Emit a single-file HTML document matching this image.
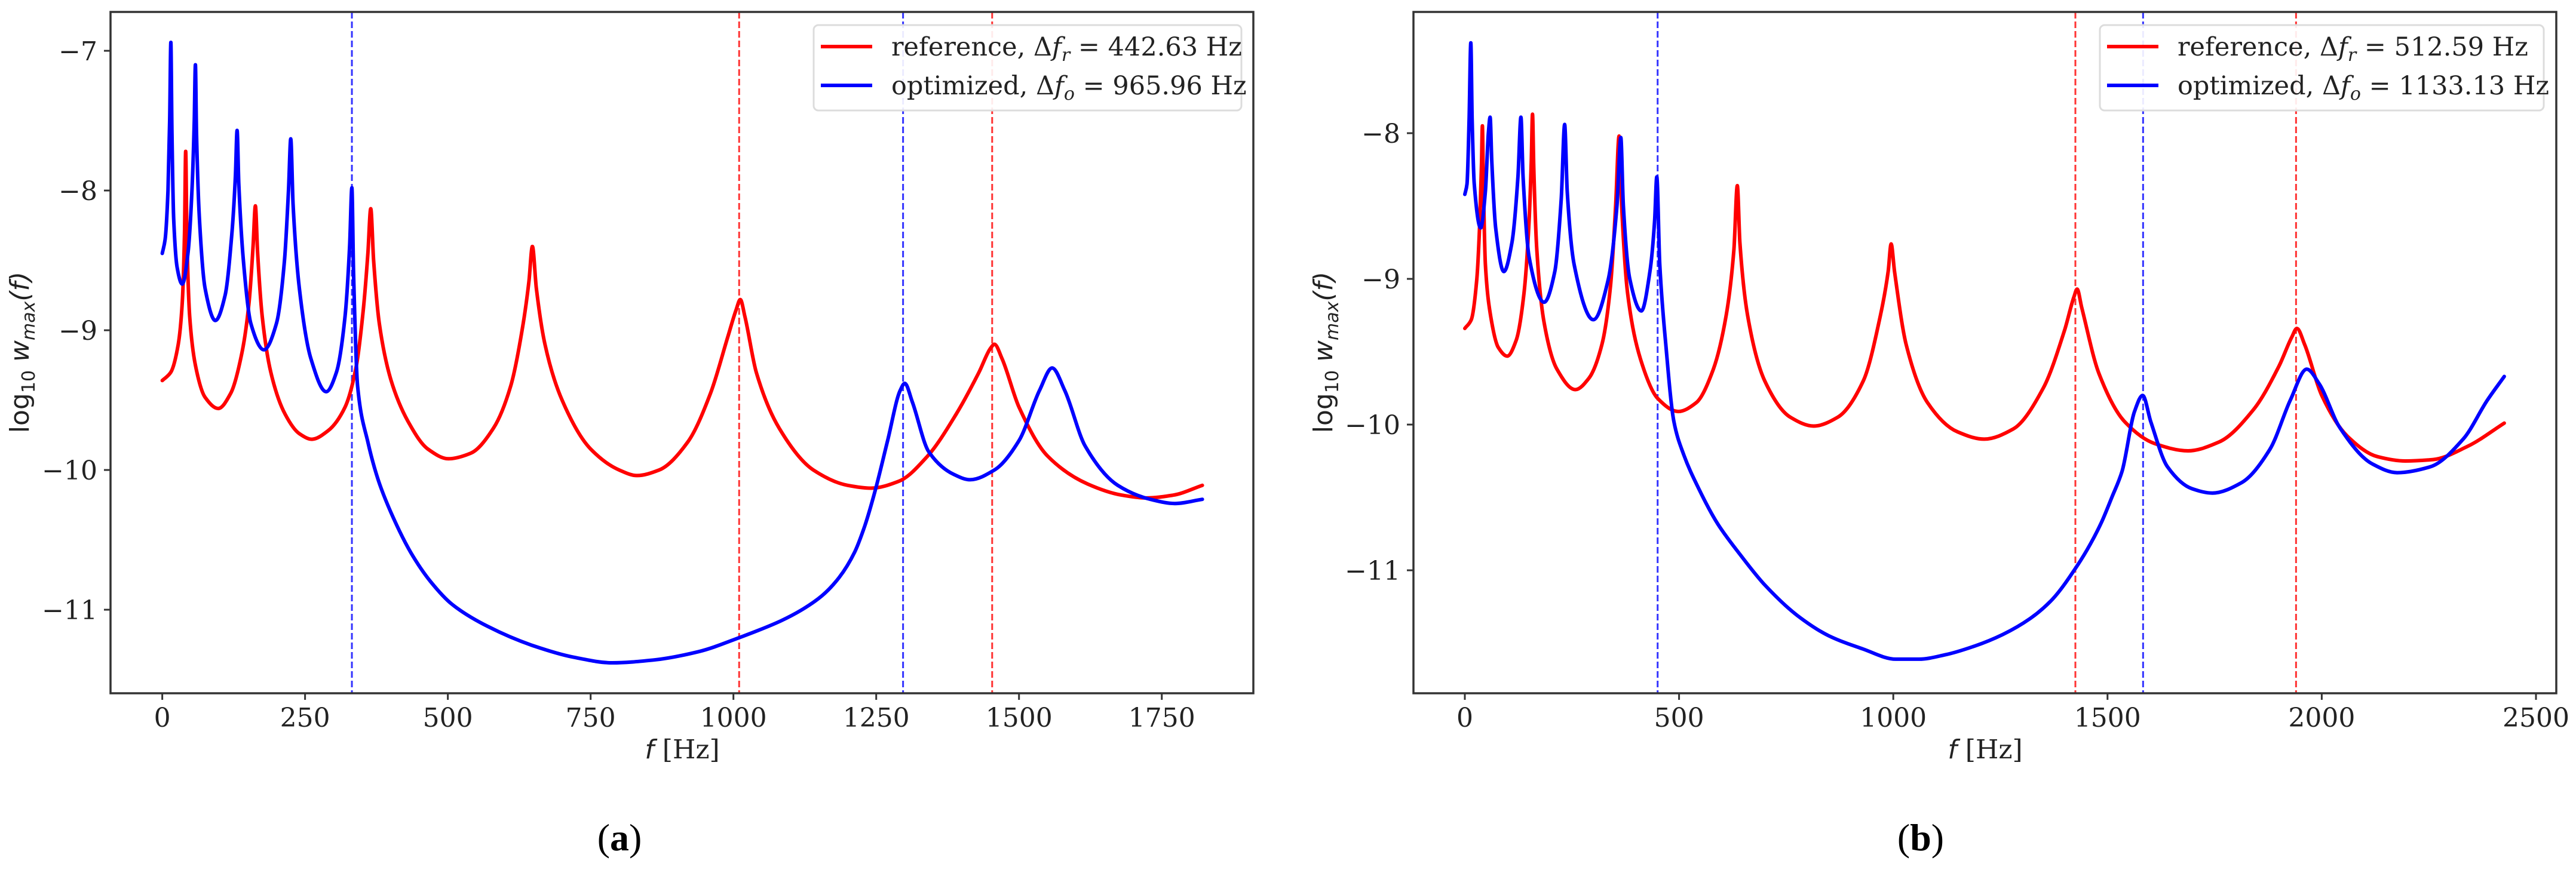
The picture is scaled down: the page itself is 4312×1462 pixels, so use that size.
<!DOCTYPE html>
<html><head><meta charset="utf-8">
<style>
html,body{margin:0;padding:0;background:#fff;}
svg{display:block;}
.tick{font-family:"DejaVu Serif","Liberation Serif",serif;font-size:44px;fill:#222;}
.leg{font-family:"DejaVu Serif","Liberation Serif",serif;font-size:43px;fill:#222;}
.ylab{font-family:"DejaVu Sans","Liberation Sans",sans-serif;font-size:44px;fill:#222;}
.cap{font-family:"Liberation Serif",serif;font-size:64px;fill:#000;}
</style></head>
<body>
<svg id="fig" width="4312" height="1462" viewBox="0 0 4312 1462" xmlns="http://www.w3.org/2000/svg"></svg>
<script>
// ---- Panel (a) data ----
const aRefF = [0,15,28,35,39,41,43,48,58,75,98,120,140,152,159,163,167,175,190,215,240,262,290,320,340,352,360,365,370,380,400,430,465,501,540,580,610,630,642,648,655,670,700,750,800,831,870,920,960,990,1005,1012,1020,1040,1080,1140,1200,1241,1290,1340,1390,1430,1450,1457,1470,1500,1550,1620,1680,1723,1770,1821];
const aRefV = [-9.36,-9.3,-9.1,-8.8,-8.3,-7.72,-8.3,-8.9,-9.25,-9.48,-9.56,-9.45,-9.15,-8.8,-8.4,-8.11,-8.45,-8.9,-9.3,-9.6,-9.74,-9.78,-9.72,-9.55,-9.25,-8.85,-8.45,-8.13,-8.5,-8.95,-9.35,-9.65,-9.85,-9.92,-9.88,-9.7,-9.4,-9.0,-8.65,-8.40,-8.7,-9.1,-9.5,-9.85,-10.0,-10.04,-10.0,-9.8,-9.45,-9.05,-8.85,-8.78,-8.9,-9.3,-9.7,-10.0,-10.11,-10.13,-10.08,-9.9,-9.6,-9.3,-9.13,-9.10,-9.2,-9.55,-9.9,-10.1,-10.18,-10.2,-10.18,-10.11];
const aOptF = [0,5,10,13,15,17,20,26,35,45,52,56,58,60,65,75,93,110,122,128,131,134,142,155,178,200,214,221,225,229,240,260,287,305,320,328,332,335,342,360,378,400,435,470,507,570,651,720,788,860,939,1010,1083,1120,1155,1185,1212,1230,1248,1270,1292,1300,1313,1342,1385,1414,1457,1500,1536,1558,1580,1616,1673,1730,1773,1821];
const aOptV = [-8.45,-8.35,-8.0,-7.5,-6.94,-7.6,-8.2,-8.55,-8.67,-8.45,-8.0,-7.5,-7.10,-7.6,-8.2,-8.7,-8.93,-8.75,-8.3,-7.9,-7.57,-7.95,-8.5,-8.95,-9.14,-8.95,-8.5,-8.0,-7.63,-8.1,-8.7,-9.2,-9.44,-9.3,-8.9,-8.4,-7.98,-8.6,-9.4,-9.8,-10.07,-10.3,-10.59,-10.8,-10.96,-11.12,-11.26,-11.34,-11.38,-11.36,-11.30,-11.2,-11.08,-11.0,-10.9,-10.77,-10.59,-10.4,-10.15,-9.79,-9.43,-9.38,-9.51,-9.87,-10.03,-10.07,-10.0,-9.79,-9.43,-9.27,-9.43,-9.83,-10.11,-10.21,-10.24,-10.21];
const aRefLines = [1010,1453];
const aOptLines = [332,1297];
const aXTicks = [0,250,500,750,1000,1250,1500,1750];
const aYTicks = [-7,-8,-9,-10,-11];
const aLegend = ["442.63","965.96"];

// ---- Panel (b) data ----
const bRefF = [0,15,28,35,39,41,43,48,60,78,99,120,138,150,155,158,161,168,185,215,258,290,320,340,352,360,366,380,410,450,498,540,580,610,628,636,642,660,700,760,814,870,930,970,988,995,1003,1030,1080,1150,1212,1280,1350,1400,1422,1429,1440,1480,1540,1610,1688,1760,1840,1900,1930,1942,1960,2000,2060,2130,2195,2260,2340,2426];
const bRefV = [-9.34,-9.28,-9.0,-8.6,-8.2,-7.95,-8.3,-8.9,-9.25,-9.47,-9.53,-9.42,-9.1,-8.6,-8.2,-7.87,-8.25,-8.8,-9.3,-9.62,-9.76,-9.68,-9.45,-9.05,-8.5,-8.02,-8.5,-9.1,-9.55,-9.82,-9.91,-9.85,-9.62,-9.25,-8.8,-8.36,-8.75,-9.25,-9.7,-9.95,-10.01,-9.95,-9.7,-9.25,-8.95,-8.76,-8.95,-9.45,-9.85,-10.05,-10.1,-10.03,-9.75,-9.35,-9.12,-9.07,-9.2,-9.65,-9.98,-10.13,-10.18,-10.12,-9.9,-9.6,-9.4,-9.34,-9.45,-9.8,-10.08,-10.22,-10.25,-10.24,-10.15,-9.99];
const bOptF = [0,5,10,14,17,22,37,48,55,59,63,72,91,110,124,131,136,150,185,210,225,233,239,255,300,335,355,364,370,385,412,432,443,448,455,469,488,510,546,590,642,700,776,850,929,1006,1060,1121,1190,1256,1320,1371,1429,1460,1486,1510,1534,1563,1582,1601,1640,1697,1745,1812,1879,1927,1965,1994,2042,2118,2176,2253,2330,2387,2426];
const bOptV = [-8.42,-8.35,-7.9,-7.38,-7.9,-8.35,-8.65,-8.4,-8.0,-7.89,-8.2,-8.65,-8.95,-8.75,-8.3,-7.89,-8.3,-8.85,-9.16,-8.95,-8.45,-7.94,-8.4,-8.9,-9.28,-9.0,-8.5,-8.03,-8.5,-9.0,-9.22,-8.95,-8.6,-8.30,-8.9,-9.45,-9.98,-10.2,-10.44,-10.68,-10.89,-11.1,-11.31,-11.45,-11.54,-11.61,-11.61,-11.58,-11.52,-11.44,-11.33,-11.2,-10.97,-10.82,-10.67,-10.5,-10.32,-9.91,-9.8,-9.98,-10.29,-10.44,-10.47,-10.4,-10.17,-9.83,-9.62,-9.72,-10.02,-10.27,-10.33,-10.29,-10.1,-9.83,-9.67];
const bRefLines = [1425,1940];
const bOptLines = [450,1583];
const bXTicks = [0,500,1000,1500,2000,2500];
const bYTicks = [-8,-9,-10,-11];
const bLegend = ["512.59","1133.13"];

const NS = "http://www.w3.org/2000/svg";
const svg = document.getElementById('fig');
function mk(tag, attrs, parent){
  const e = document.createElementNS(NS, tag);
  for (const k in attrs) e.setAttribute(k, attrs[k]);
  (parent||svg).appendChild(e);
  return e;
}

// monotone cubic (Fritsch-Carlson) path through pixel points
function monotonePath(px, py){
  const n = px.length;
  if (n < 2) return '';
  const d = [], m = new Array(n);
  for (let i = 0; i < n - 1; i++) d.push((py[i+1] - py[i]) / (px[i+1] - px[i]));
  m[0] = d[0]; m[n-1] = d[n-2];
  for (let i = 1; i < n - 1; i++) {
    if (d[i-1] * d[i] <= 0) m[i] = 0;
    else {
      const h0 = px[i] - px[i-1], h1 = px[i+1] - px[i];
      const w1 = 2*h1 + h0, w2 = h1 + 2*h0;
      m[i] = (w1 + w2) / (w1 / d[i-1] + w2 / d[i]);
    }
  }
  let s = 'M' + px[0].toFixed(1) + ',' + py[0].toFixed(1);
  for (let i = 0; i < n - 1; i++) {
    const h = (px[i+1] - px[i]) / 3;
    s += 'C' + (px[i] + h).toFixed(1) + ',' + (py[i] + m[i]*h).toFixed(1) + ' ' +
         (px[i+1] - h).toFixed(1) + ',' + (py[i+1] - m[i+1]*h).toFixed(1) + ' ' +
         px[i+1].toFixed(1) + ',' + py[i+1].toFixed(1);
  }
  return s;
}

function panel(P){
  const g = mk('g', {});
  
  
  const X = f => P.x0 + (f - P.xd[0]) / (P.xd[1] - P.xd[0]) * (P.x1 - P.x0);
  const Y = v => P.y0 + (P.yd[1] - v) / (P.yd[1] - P.yd[0]) * (P.y1 - P.y0);

  const defs = mk('defs', {}, g);
  const cp = mk('clipPath', {id: 'clip-' + P.id}, defs);
  mk('rect', {x: P.x0, y: P.y0, width: P.x1 - P.x0, height: P.y1 - P.y0}, cp);

  P.refLines.forEach(f => {
    const l = mk('line', {x1: X(f), x2: X(f), y1: P.y0, y2: P.y1, stroke: '#ff3333', 'stroke-width': 3, 'stroke-dasharray': '11,5'}, g);
    
    
  });
  P.optLines.forEach(f => {
    const l = mk('line', {x1: X(f), x2: X(f), y1: P.y0, y2: P.y1, stroke: '#3333ff', 'stroke-width': 3, 'stroke-dasharray': '11,5'}, g);
    
    
  });

  function series(F, V, color, name){
    const d = monotonePath(F.map(X), V.map(Y));
    const p = mk('path', {d: d, fill: 'none', stroke: color, 'stroke-width': 6, 'stroke-linejoin': 'round', 'stroke-linecap': 'round', 'clip-path': 'url(#clip-' + P.id + ')'}, g);
    
    
  }
  series(P.refF, P.refV, '#ff0000', 'reference-line');
  series(P.optF, P.optV, '#0000ff', 'optimized-line');

  const fr = mk('rect', {x: P.x0, y: P.y0, width: P.x1 - P.x0, height: P.y1 - P.y0, fill: 'none', stroke: '#333', 'stroke-width': 3.5}, g);
  
  

  P.xt.forEach(t => {
    mk('line', {x1: X(t), x2: X(t), y1: P.y1, y2: P.y1 + 11, stroke: '#333', 'stroke-width': 3}, g);
    const tx = mk('text', {x: X(t), y: P.y1 + 56, 'text-anchor': 'middle', class: 'tick'}, g);
    tx.textContent = String(t);
    
    
  });
  P.yt.forEach(t => {
    mk('line', {x1: P.x0 - 11, x2: P.x0, y1: Y(t), y2: Y(t), stroke: '#333', 'stroke-width': 3}, g);
    const tx = mk('text', {x: P.x0 - 22, y: Y(t) + 16, 'text-anchor': 'end', class: 'tick'}, g);
    tx.textContent = '\u2212' + String(-t);
    
    
  });

  const xl = mk('text', {x: P.xlab, y: 1270, 'text-anchor': 'middle', class: 'tick'}, g);
  xl.innerHTML = '<tspan font-style="italic" font-family="DejaVu Sans, sans-serif">f</tspan> [Hz]';
  
  

  const yl = mk('text', {x: 0, y: 0, 'text-anchor': 'middle', class: 'ylab', transform: 'translate(' + P.ylx + ',590) rotate(-90)'}, g);
  yl.innerHTML = 'log<tspan font-size="30" dy="10">10</tspan><tspan dy="-10" font-style="italic"> w</tspan><tspan font-style="italic" font-size="30" dy="10">max</tspan><tspan dy="-10" font-style="italic">(f)</tspan>';
  
  

  const lg = mk('g', {}, g);
  
  
  mk('rect', {x: P.lx, y: 42, width: P.lw, height: 143, rx: 8, fill: '#fff', 'fill-opacity': 0.9, stroke: '#dcdcdc', 'stroke-width': 3}, lg);
  const rows = [['#ff0000', 'reference, ', 'r', P.leg[0]], ['#0000ff', 'optimized, ', 'o', P.leg[1]]];
  rows.forEach((r, i) => {
    const y = 78 + i * 65;
    const hl = mk('line', {x1: P.lx + 12, x2: P.lx + 98, y1: y, y2: y, stroke: r[0], 'stroke-width': 6}, lg);
    
    
    const t = mk('text', {x: P.lx + 130, y: y + 15, class: 'leg'}, lg);
    t.innerHTML = r[1] + '\u0394<tspan font-style="italic">f</tspan><tspan font-style="italic" font-size="30" dy="9">' + r[2] + '</tspan><tspan dy="-9"> = ' + r[3] + ' Hz</tspan>';
    
    
  });

  const c = mk('text', {x: P.cx, y: 1424, 'text-anchor': 'middle', class: 'cap'}, g);
  c.innerHTML = '(<tspan font-weight="bold">' + P.id + '</tspan>)';
  
  
}

panel({id: 'a', x0: 185, x1: 2098, y0: 20, y1: 1161, xd: [-90.6, 1910.3], yd: [-11.598, -6.722],
  refF: aRefF, refV: aRefV, optF: aOptF, optV: aOptV, refLines: aRefLines, optLines: aOptLines,
  xt: aXTicks, yt: aYTicks, leg: aLegend, xlab: 1142, ylx: 48, lx: 1362, lw: 716, cx: 1037});
panel({id: 'b', x0: 2366, x1: 4279, y0: 20, y1: 1161, xd: [-119.9, 2547.4], yd: [-11.844, -7.168],
  refF: bRefF, refV: bRefV, optF: bOptF, optV: bOptV, refLines: bRefLines, optLines: bOptLines,
  xt: bXTicks, yt: bYTicks, leg: bLegend, xlab: 3323, ylx: 2230, lx: 3515, lw: 743, cx: 3215});
</script>
</body></html>
